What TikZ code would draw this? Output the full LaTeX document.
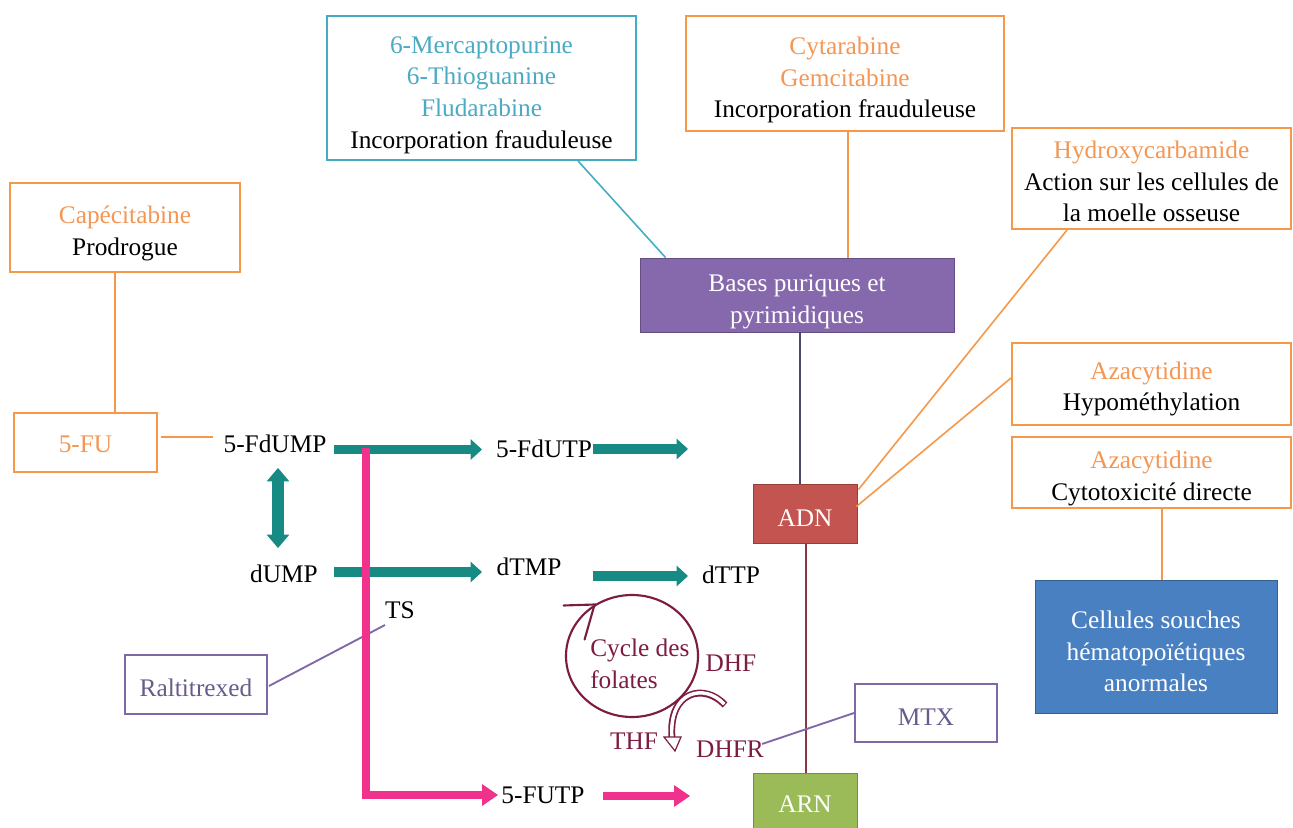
\documentclass[tikz,border=0pt]{standalone}
\usepackage{fontspec}
\setmainfont{Liberation Serif}
\usetikzlibrary{arrows.meta,calc,shapes.geometric}

\definecolor{orangeT}{RGB}{244,150,84}
\definecolor{orangeB}{RGB}{246,152,74}
\definecolor{tealT}{RGB}{75,170,196}
\definecolor{tealB}{RGB}{70,172,196}
\definecolor{purpleF}{RGB}{134,104,172}
\definecolor{redF}{RGB}{196,84,80}
\definecolor{blueF}{RGB}{73,128,194}
\definecolor{greenF}{RGB}{155,187,89}
\definecolor{lilacB}{RGB}{128,104,166}
\definecolor{lilacT}{RGB}{105,92,140}
\definecolor{maroon}{RGB}{125,28,66}
\definecolor{flowteal}{RGB}{24,138,132}
\definecolor{flowpink}{RGB}{240,50,140}
\definecolor{slate}{RGB}{72,72,112}
\definecolor{rust}{RGB}{140,52,72}

\begin{document}
\begin{tikzpicture}[x=0.75pt,y=-0.75pt,
  every node/.style={font=\fontsize{19}{23.8}\selectfont, inner sep=0pt},
  boxsize/.style 2 args={minimum width=#1*0.75pt, minimum height=#2*0.75pt},
  obox/.style={draw=orangeB, line width=1.4pt, fill=white},
  tbox/.style={draw=tealB, line width=1.4pt, fill=white},
  lbox/.style={draw=lilacB, line width=1.4pt, fill=white},
  fbox/.style={fill=#1, draw=#1!75!black, line width=0.6pt},
  btext/.style={align=center},
  wtext/.style={align=center, text=white},
  ltext/.style={align=center, text=lilacT},
  oline/.style={draw=orangeB, line width=1.2pt},
  tarrow/.style={draw=flowteal, line width=7pt, -{Triangle[length=8.5pt,width=15.5pt,line width=0pt]}},
  tdouble/.style={draw=flowteal, line width=8.5pt, {Triangle[length=10pt,width=17pt,line width=0pt]}-{Triangle[length=10pt,width=17pt,line width=0pt]}},
  parrow/.style={draw=flowpink, line width=6.5pt, -{Triangle[length=12pt,width=16.5pt,line width=0pt]}},
  flab/.style={text=maroon}
]
\clip (0,0) rectangle (1293,828);

% ---------- drug and target boxes ----------
\node[tbox, boxsize={309}{144}] (tb) at (481.5,88) {};
\node[btext] (tbT) at ($(tb.center)+(0,7)$)
  {\textcolor{tealT}{6-Mercaptopurine}\\\textcolor{tealT}{6-Thioguanine}\\\textcolor{tealT}{Fludarabine}\\Incorporation frauduleuse};
\node[obox, boxsize={318}{115}] (cy) at (845,73.5) {};
\node[btext] (cyT) at ($(cy.center)+(0,6.5)$)
  {\textcolor{orangeT}{Cytarabine}\\\textcolor{orangeT}{Gemcitabine}\\Incorporation frauduleuse};
\node[obox, boxsize={279}{101}] (hy) at (1151.5,178.5) {};
\node[btext] (hyT) at ($(hy.center)+(0,3)$)
  {\textcolor{orangeT}{Hydroxycarbamide}\\Action sur les cellules de\\la moelle osseuse};
\node[obox, boxsize={230}{89}] (cap) at (125,227.5) {};
\node[btext] (capT) at ($(cap.center)+(0,6)$) {\textcolor{orangeT}{Capécitabine}\\Prodrogue};
\node[obox, boxsize={143}{59}] (fu) at (85.5,442.5) {};
\node[btext] (fuT) at ($(fu.center)+(0,2)$) {\textcolor{orangeT}{5-FU}};
\node[fbox=purpleF, boxsize={314}{74}] (bases) at (797,295) {};
\node[wtext] (basesT) at ($(bases.center)+(0,7)$) {Bases puriques et\\pyrimidiques};
\node[obox, boxsize={279}{82}] (aza1) at (1151.5,384) {};
\node[btext] (aza1T) at ($(aza1.center)+(0,5)$) {\textcolor{orangeT}{Azacytidine}\\Hypométhylation};
\node[obox, boxsize={279}{71}] (aza2) at (1151.5,472.5) {};
\node[btext] (aza2T) at ($(aza2.center)+(0,6)$) {\textcolor{orangeT}{Azacytidine}\\Cytotoxicité directe};
\node[fbox=redF, boxsize={104}{59}] (adn) at (805,513.5) {};
\node[wtext] (adnT) at ($(adn.center)+(0,5)$) {ADN};
\node[fbox=blueF, boxsize={242}{133}] (cell) at (1156,646.5) {};
\node[wtext] (cellT) at ($(cell.center)+(0,5)$) {Cellules souches\\hématopoïétiques\\anormales};
\node[lbox, boxsize={142}{59}] (ralt) at (196,684.5) {};
\node[ltext] (raltT) at ($(ralt.center)+(0,3)$) {Raltitrexed};
\node[lbox, boxsize={142}{58}] (mtx) at (926,713) {};
\node[ltext] (mtxT) at ($(mtx.center)+(0,4)$) {MTX};
\node[fbox=greenF, boxsize={104}{62}] (arn) at (805,804) {};
\node[wtext] (arnT) at ($(arn.center)+(0,0)$) {ARN};

% ---------- metabolite labels ----------
\node (fdump) at (275,444) {5-FdUMP};
\node (fdutp) at (544,449) {5-FdUTP};
\node (dump)  at (284,574) {dUMP};
\node (dtmp)  at (529,567) {dTMP};
\node (dttp)  at (731,575) {dTTP};
\node (ts)    at (400,610) {TS};
\node (futp)  at (543,795) {5-FUTP};
\node[flab] (dhf)  at (731,663) {DHF};
\node[flab] (thf)  at (634,741) {THF};
\node[flab] (dhfr) at (730,749) {DHFR};
\node[flab, align=left, anchor=west] (cyctext) at (590,664) {Cycle des\\folates};

\coordinate (fdutpEnd) at (688,449);
\coordinate (dttpEnd)  at (688,576);
\coordinate (futpEnd)  at (690,796);

% ---------- thin connectors ----------
\draw[oline] ($(cap.south)+(-10,0)$) -- ($(fu.north)+(29.5,0)$);
\draw[oline] ($(fu.east)+(3,-5.5)$) -- ($(fdump.center)+(-62,-7)$);
\draw[draw=tealB, line width=1.2pt] ($(tb.south)+(96.5,0)$) -- ($(bases.north west)+(26,0)$);
\draw[oline] ($(cy.south)+(3,0)$) -- ($(bases.north)+(51,0)$);
\draw[draw=slate, line width=1.3pt] ($(bases.south)+(3,0)$) -- ($(adn.north)+(-5,0)$);
\draw[oline] ($(hy.south west)+(56,0)$) -- ($(adn.north east)+(1,6)$);
\draw[oline] ($(aza1.west)+(0,-6)$) -- ($(adn.east)+(-1,-7)$);
\draw[oline] ($(aza2.south)+(10.5,0)$) -- ($(cell.north)+(6,0)$);
\draw[draw=rust, line width=1.3pt] ($(adn.south)+(1,0)$) -- ($(arn.north)+(1,0)$);
\draw[draw=lilacB, line width=1.4pt] ($(ralt.east)+(1,1.5)$) -- ($(ts.center)+(-15,15)$);
\draw[draw=lilacB, line width=1.4pt] (mtx.west) -- ($(dhfr.center)+(32,-5)$);

% ---------- teal flux arrows ----------
\draw[tarrow] ($(fdump.center)+(59,5.5)$) -- ($(fdutp.center)+(-62,0.5)$);
\draw[tarrow] ($(fdutp.center)+(49,0)$) -- (fdutpEnd);
\draw[tarrow] ($(dump.center)+(50,-2)$) -- ($(dtmp.center)+(-47,5)$);
\draw[tarrow] ($(dtmp.center)+(64,9)$) -- (dttpEnd);
\draw[tdouble] ($(fdump.center)+(3,24)$) -- ($(dump.center)+(-6,-26)$);

% ---------- pink flux to RNA ----------
\draw[parrow, line join=miter] ($(fdump.center)+(91,4)$) -- ($(futp.center)+(-177,0)$) -- ($(futp.center)+(-45,0)$);
\draw[parrow] ($(futp.center)+(60,1)$) -- (futpEnd);

% ---------- folate cycle ----------
\node[draw=maroon, line width=1.6pt, ellipse, minimum width=132*0.75pt, minimum height=122*0.75pt] (cyc) at (632,656) {};
\draw[maroon, line width=1.6pt, line cap=round]
  ($(cyc.126)+(-31,1)$) -- (cyc.126) -- ($(cyc.126)+(-10,35)$);

% hollow curved arrow DHF -> THF
\draw[maroon, line width=5.2pt] (725,705) .. controls (705,683) and (668,690) .. (672,738);
\draw[white, line width=2.6pt, shorten <=0.9pt] (725,705) .. controls (705,683) and (668,690) .. (672,738.5);
\draw[maroon, line width=0.9pt, fill=white, line join=miter] (664,737) -- (681,737) -- (675,751) -- cycle;

\end{tikzpicture}
\end{document}
